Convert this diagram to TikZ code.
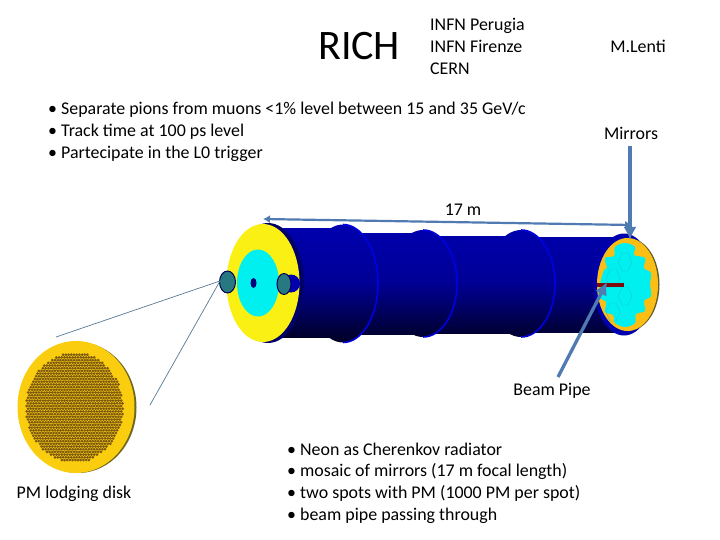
\documentclass[tikz,border=0pt]{standalone}
\usepackage{fontspec}
\setmainfont{Carlito}
\usetikzlibrary{arrows.meta,positioning,calc}
\definecolor{carrow}{RGB}{79,123,178}
\definecolor{cthin}{RGB}{85,120,150}
\definecolor{ctube}{RGB}{0,0,175}
\definecolor{cring}{RGB}{0,0,225}
\definecolor{cyellow}{RGB}{250,240,20}
\definecolor{ccyan}{RGB}{0,240,240}
\definecolor{corange}{RGB}{250,190,20}
\definecolor{cspot}{RGB}{40,120,130}
\definecolor{cpipe}{RGB}{125,10,15}
\definecolor{cpmgold}{RGB}{250,205,15}
\definecolor{cpmdot}{RGB}{125,90,15}
\tikzset{
  plain/.style={font=\fontsize{17.9}{21.8}\selectfont,inner sep=0pt},
  bluearrow/.style={-{Latex[length=13pt,width=13pt]},line width=3.3pt,carrow},
  thinline/.style={line width=0.7pt,cthin},
  tubepart/.style={path picture={\shade[top color=ctube,bottom color=ctube!20!black,middle color=ctube!85!black] (250,224) rectangle (640,342);}},
}
\begin{document}
\begin{tikzpicture}[x=1pt,y=-1pt,>=Latex]
\useasboundingbox (0,0) rectangle (720,540);
% ---------- tube ----------
\path[tubepart] (270,229) rectangle (343,337);
\path[tubepart] (343,233) rectangle (423,334);
\path[tubepart] (423,236) rectangle (521,333);
\path[tubepart] (521,237) rectangle (622,332);
\foreach \cx/\rx/\ry in {343/35/59,423/34/53.5,521/34/53.5}{
  \path[tubepart] (\cx,283.5) ellipse (\rx pt and \ry pt);
  \draw[cring,line width=1.6pt] (\cx,{283.5-\ry}) arc (90:-90:\rx pt and \ry pt);
}
% ---------- front disk ----------
\fill[ctube!60!black] (268,283) ellipse (36pt and 60pt);
\fill[cyellow] (263,283) ellipse (36.5pt and 59pt);
\fill[ccyan] (258,283) ellipse (21pt and 33.5pt);
\fill[ctube!70!black] (253.5,283) ellipse (3pt and 5pt);
\fill[ctube] (291,283.5) circle (9);
\fill[cspot,draw=ctube!50!black,line width=1pt] (284,284) ellipse (7pt and 10.5pt);
\fill[cspot,draw=ctube!50!black,line width=1pt] (227.5,282) ellipse (8pt and 11pt);
% ---------- mirror end ----------
\fill[ctube] (624,284.5) ellipse (30pt and 51pt);
\fill[olive!60!black] (629.5,284.5) ellipse (30pt and 46pt);
\fill[corange] (627.5,284.5) ellipse (30.5pt and 46.5pt);
\fill[ccyan] plot[smooth cycle,tension=0.6] coordinates {
  (625,243) (635,247) (634,255) (645,258) (644,268) (651,273) (650,284) (651,296)
  (644,301) (645,311) (636,314) (635,323) (625,327) (615,323) (613,315) (605,312)
  (606,302) (599,297) (600,284) (604,270) (607,268) (605,258) (614,256) (615,247)};
\foreach \hx/\hy in {613/278,625/262,613/312,625/296}{
  \draw[ctube!15!ccyan!85!gray,line width=0.3pt] (\hx-7,\hy) -- (\hx-3,\hy-9) -- (\hx+3,\hy-9) -- (\hx+7,\hy) -- (\hx+3,\hy+9) -- (\hx-3,\hy+9) -- cycle;
}
\draw[cpipe,line width=4pt] (597,284.5) -- (624,284.5);
% ---------- PM disk ----------
\fill[olive!70!black] (78,407.5) circle [x radius=58.5,y radius=65.5];
\fill[cpmgold] (76,407) circle [x radius=58.5,y radius=66];
\foreach \r in {0,...,41}{
  \pgfmathsetmacro{\shift}{mod(\r,2)*1.35}
  \foreach \c in {0,...,38}{
    \pgfmathsetmacro{\px}{24+\c*2.7+\shift}
    \pgfmathsetmacro{\py}{352+\r*2.7}
    \pgfmathparse{((\px-74.5)/48.5)^2+((\py-407.5)/55)^2<1?1:0}
    \ifnum\pgfmathresult=1
      \fill[cpmdot] (\px,\py) circle (1.5);
    \fi
  }
}
% ---------- texts ----------
\node[anchor=west,inner sep=0pt,font=\fontsize{42}{44}\selectfont] (rich) at (318,46) {RICH};
\node[plain,anchor=north west,align=left] (infn) at (430,18) {INFN Perugia\\INFN Firenze\\CERN};
\node[plain] (lenti) at (638,46) {M.Lenti};
\node[plain] (mirrors) at (631,133) {Mirrors};
\node[plain,anchor=north west,align=left] (goals) at (48,102) {• Separate pions from muons <1\% level between 15 and 35 GeV/c\\• Track time at 100 ps level\\• Partecipate in the L0 trigger};
\node[plain] (len) at (463,210) {17 m};
\node[plain] (pipe) at (552,391) {Beam Pipe};
\node[plain,anchor=north west,align=left] (notes) at (287,442.5) {• Neon as Cherenkov radiator\\• mosaic of mirrors (17 m focal length)\\• two spots with PM (1000 PM per spot)\\• beam pipe passing through};
\node[plain] (pmdisk) at (74,494) {PM lodging disk};
% ---------- connectors ----------
\coordinate (lenL) at (263,219);
\coordinate (lenR) at (632,225);
\coordinate (mirrorTop) at (630,146);
\coordinate (mirrorTip) at (630,240);
\coordinate (pipeEnd) at (558,377);
\coordinate (pipeTip) at (607,282);
\coordinate (leadA) at (56,337);
\coordinate (leadB) at (150,405);
\coordinate (spotL) at (220,281);
\draw[{Latex[length=7pt,width=8pt]}-{Latex[length=7pt,width=8pt]},line width=2.2pt,carrow] (lenL) -- (lenR);
\draw[bluearrow] (mirrorTop) -- (mirrorTip);
\draw[bluearrow] (pipeEnd) -- (pipeTip);
\draw[thinline] (leadA) -- (spotL) -- (leadB);
\end{tikzpicture}
\end{document}
